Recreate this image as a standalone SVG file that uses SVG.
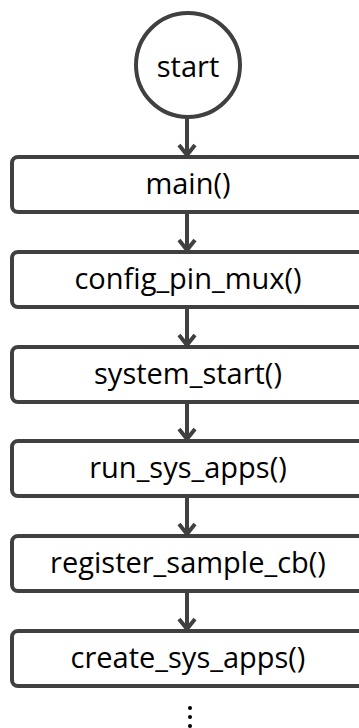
<svg xmlns="http://www.w3.org/2000/svg" width="359" height="728" viewBox="0 0 359 728">
<style>
.n{fill:#fff;stroke:#404040;stroke-width:4}
.t{font-family:"Open Sans","Liberation Sans",sans-serif;font-size:29px;fill:#000;text-anchor:middle}
.c{stroke:#404040;stroke-width:4;fill:none}
</style>
<defs>
<marker id="a" markerWidth="12" markerHeight="16" refX="10" refY="0" orient="auto" markerUnits="userSpaceOnUse" viewBox="0 -8 12 16" overflow="visible">
<path d="M0,-8 L10,0 L0,8" fill="none" stroke="#404040" stroke-width="4"/>
</marker>
</defs>
<rect width="359" height="728" fill="#fff"/>
<g id="connectors">
<line class="c" x1="187" y1="117" x2="187" y2="155" marker-end="url(#a)"/>
<line class="c" x1="187" y1="212" x2="187" y2="250" marker-end="url(#a)"/>
<line class="c" x1="187" y1="307" x2="187" y2="345" marker-end="url(#a)"/>
<line class="c" x1="187" y1="402" x2="187" y2="439" marker-end="url(#a)"/>
<line class="c" x1="187" y1="496" x2="187" y2="534" marker-end="url(#a)"/>
<line class="c" x1="187" y1="591" x2="187" y2="629" marker-end="url(#a)"/>
</g>
<g id="start"><circle class="n" cx="188" cy="65" r="52"/><text class="t" x="188" y="77">start</text></g>
<g id="main"><rect class="n" x="12" y="157" width="370" height="55" rx="6"/><text class="t" x="188" y="194">main()</text></g>
<g id="config_pin_mux"><rect class="n" x="12" y="252" width="370" height="55" rx="6"/><text class="t" x="188" y="289">config_pin_mux()</text></g>
<g id="system_start"><rect class="n" x="12" y="347" width="370" height="55" rx="6"/><text class="t" x="188" y="384">system_start()</text></g>
<g id="run_sys_apps"><rect class="n" x="12" y="441" width="370" height="55" rx="6"/><text class="t" x="188" y="478">run_sys_apps()</text></g>
<g id="register_sample_cb"><rect class="n" x="12" y="536" width="370" height="55" rx="6"/><text class="t" x="188" y="573">register_sample_cb()</text></g>
<g id="create_sys_apps"><rect class="n" x="12" y="631" width="370" height="55" rx="6"/><text class="t" x="188" y="668">create_sys_apps()</text></g>
<g id="more" fill="#000"><circle cx="190" cy="708" r="2"/><circle cx="190" cy="717" r="2"/><circle cx="190" cy="726" r="2"/></g>
</svg>
